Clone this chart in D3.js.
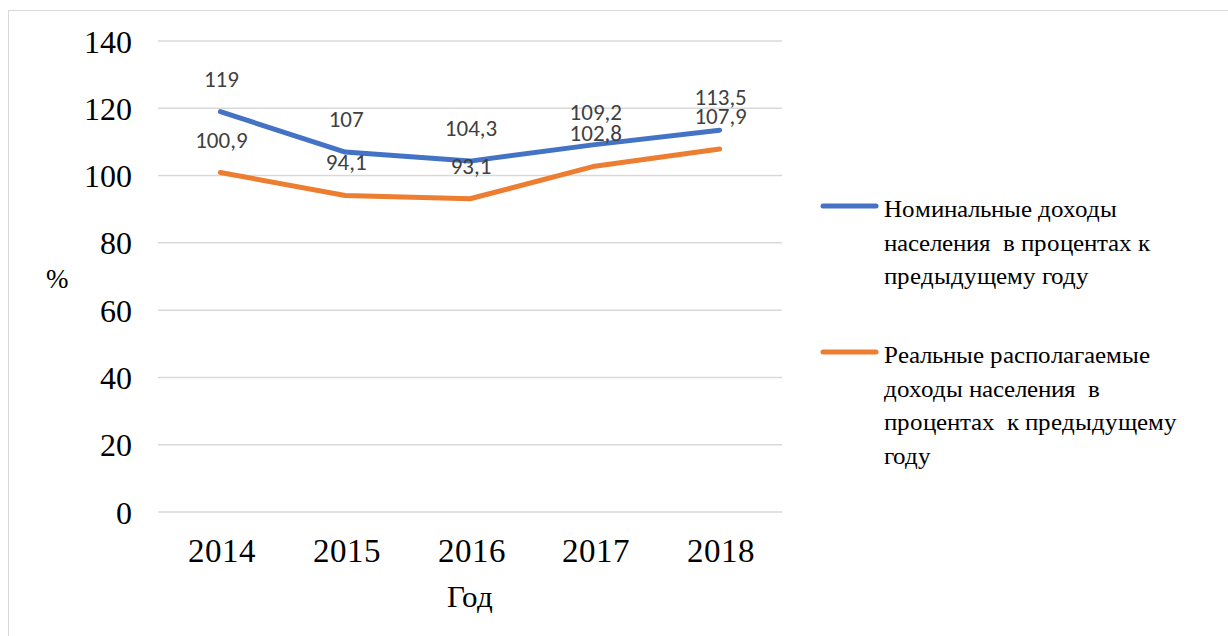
<!DOCTYPE html>
<html>
<head>
<meta charset="utf-8">
<script src="https://cdn.jsdelivr.net/npm/d3@7"></script>
<style>
    @font-face {
        font-family: 'RefSerif';
        src: local('Liberation Serif'), local('LiberationSerif'), local('LiberationSerif-Regular'), local('Tinos'), local('Tinos-Regular');
    }
    body { margin: 0; background: #fff; }
    svg text.serif { font-family: 'RefSerif', 'Liberation Serif', Tinos, serif !important; }
    svg text.lbl { font-family: Carlito, Calibri, sans-serif !important; }
</style>
</head>
<body>
<svg id="fig" width="1228" height="636"></svg>
<script>
var years = ['2014', '2015', '2016', '2017', '2018'];
var nominal = [119, 107, 104.3, 109.2, 113.5];
var real = [100.9, 94.1, 93.1, 102.8, 107.9];
var yTicks = [0, 20, 40, 60, 80, 100, 120, 140];

var series = [
    { name: ['Номинальные доходы', 'населения  в процентах к', 'предыдущему году'], values: nominal, color: '#4472C4' },
    { name: ['Реальные располагаемые', 'доходы населения  в', 'процентах  к предыдущему', 'году'], values: real, color: '#ED7D31' }
];

var svg = d3.select('#fig');

// outer frame
svg.append('rect')
    .attr('x', 8.5).attr('y', 10.5)
    .attr('width', 1240).attr('height', 640)
    .attr('fill', 'none').attr('stroke', '#d9d9d9');

var plot = { left: 158, right: 782, top: 41, bottom: 512 };

var x = d3.scalePoint().domain(years).range([plot.left, plot.right]).padding(0.5);
var y = d3.scaleLinear().domain([0, 140]).range([plot.bottom, plot.top]);

// gridlines
svg.append('g').selectAll('line').data(yTicks).join('line')
    .attr('x1', plot.left).attr('x2', plot.right)
    .attr('y1', d => y(d)).attr('y2', d => y(d))
    .attr('stroke', '#d9d9d9').attr('stroke-width', 1.5);

// y axis
var yAxis = svg.append('g')
    .attr('transform', 'translate(132,0)')
    .call(d3.axisLeft(y).tickValues(yTicks).tickSize(0).tickPadding(0))
    .attr('font-family', null).attr('font-size', null);
yAxis.select('.domain').remove();
yAxis.selectAll('text')
    .attr('class', 'serif')
    .attr('dy', null).attr('x', 0).attr('y', 11)
    .attr('fill', '#000')
    .style('font-size', '32px');

// x axis
var xAxis = svg.append('g')
    .attr('transform', 'translate(0,' + plot.bottom + ')')
    .call(d3.axisBottom(x).tickSize(0).tickPadding(0))
    .attr('font-family', null).attr('font-size', null);
xAxis.select('.domain').remove();
xAxis.selectAll('text')
    .attr('class', 'serif')
    .attr('dy', null).attr('x', 1).attr('y', 50)
    .attr('fill', '#000')
    .style('font-size', '33px');

// axis titles
svg.append('text')
    .attr('class', 'serif')
    .attr('x', 470).attr('y', 607)
    .attr('text-anchor', 'middle')
    .style('font-size', '31px')
    .text('Год');
svg.append('text')
    .attr('class', 'serif')
    .attr('x', 57).attr('y', 288)
    .attr('text-anchor', 'middle')
    .style('font-size', '27px')
    .text('%');

// lines
var line = d3.line()
    .x((d, i) => x(years[i]))
    .y(d => y(d));

series.forEach(function (s) {
    svg.append('path')
        .datum(s.values)
        .attr('d', line)
        .attr('fill', 'none')
        .attr('stroke', s.color)
        .attr('stroke-width', 5)
        .attr('stroke-linecap', 'round')
        .attr('stroke-linejoin', 'round');
});

// data labels
series.forEach(function (s) {
    svg.append('g').selectAll('text').data(s.values).join('text')
        .attr('class', 'lbl')
        .attr('x', (d, i) => x(years[i]) + 1)
        .attr('y', d => y(d) - 25)
        .attr('text-anchor', 'middle')
        .attr('fill', '#404040')
        .style('font-size', '23px')
        .text(d => String(d).replace('.', ','));
});

// legend
var legendTop = [206, 352];
var legendBase = [217, 363];
series.forEach(function (s, k) {
    var g = svg.append('g');
    g.append('line')
        .attr('x1', 823).attr('x2', 876)
        .attr('y1', legendTop[k]).attr('y2', legendTop[k])
        .attr('stroke', s.color).attr('stroke-width', 5)
        .attr('stroke-linecap', 'round');
    g.selectAll('text').data(s.name).join('text')
        .attr('class', 'serif')
        .attr('x', 884)
        .attr('y', (d, i) => legendBase[k] + i * 33.5)
        .style('white-space', 'pre')
        .style('font-size', '25px')
        .text(d => d);
});
</script>
</body>
</html>
